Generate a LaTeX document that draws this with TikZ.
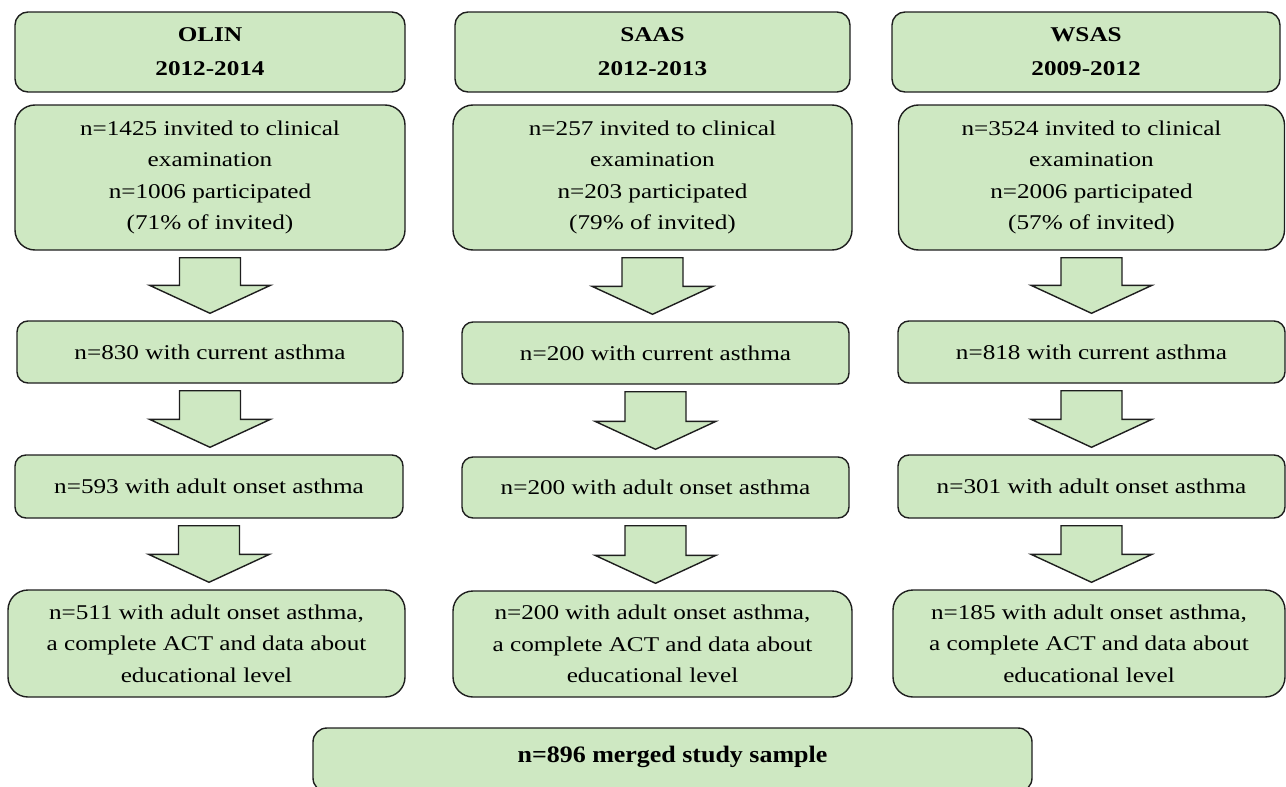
\documentclass[tikz,border=0pt]{standalone}
\usepackage{fontspec}
\setmainfont[FakeStretch=1.2]{Liberation Serif}
\newfontfamily\mergedFont[FakeStretch=1.1]{Liberation Serif}
\usetikzlibrary{calc}
\definecolor{boxGreen}{RGB}{206,232,194}
\definecolor{boxLine}{RGB}{30,30,30}
\def\lineThickness{(1.4pt)}
\def\gapLen{7}
\def\shaftHalf{30.5}
\def\headHalf{60.5}
\def\headLen{28}
\def\fText{\fontsize{21}{31.5}\selectfont}
\tikzset{box/.style={draw=boxLine,fill=boxGreen,line width=\lineThickness,rounded corners=11pt,align=center,inner sep=0,font=\fText}}
\tikzset{bigbox/.style={box,rounded corners=20pt}}
\tikzset{headbox/.style={box,rounded corners=13pt,font=\fontsize{21}{34}\selectfont\bfseries}}
\tikzset{barrow/.style={draw=boxLine,fill=boxGreen,line width=\lineThickness,line join=miter}}
\newcommand{\blockArrow}[2]{\coordinate (t) at ($(#1.south)+(0,\gapLen)$);\coordinate (h) at ($(#1.south |- #2.north)+(0,-\gapLen)$);\draw[barrow] ($(t)+(-\shaftHalf,0)$)--($(t)+(\shaftHalf,0)$)--($(h)+(\shaftHalf,-\headLen)$)--($(h)+(\headHalf,-\headLen)$)--(h)--($(h)+(-\headHalf,-\headLen)$)--($(h)+(-\shaftHalf,-\headLen)$)--cycle;}

\begin{document}
\begin{tikzpicture}[x=1pt,y=-1pt]\useasboundingbox (0,0) rectangle (1286,787);
% OLIN
\node[headbox,minimum width=390pt,minimum height=80pt] (o1) at (210,52) {OLIN\\2012-2014};
\node[bigbox,minimum width=390pt,minimum height=145pt] (o2) at (210,177.5) {n=1425 invited to clinical\\examination\\n=1006 participated\\(71\% of invited)};
\node[box,minimum width=386pt,minimum height=62pt] (o3) at (210,352) {n=830 with current asthma};
\node[box,minimum width=388pt,minimum height=63pt] (o4) at (209,486.5) {n=593 with adult onset asthma};
\node[bigbox,minimum width=397pt,minimum height=107pt] (o5) at (206.5,643.5) {n=511 with adult onset asthma,\\a complete ACT and data about\\educational level};
% SAAS
\node[headbox,minimum width=395pt,minimum height=80pt] (s1) at (652.5,52) {SAAS\\2012-2013};
\node[bigbox,minimum width=399pt,minimum height=145pt] (s2) at (652.5,177.5) {n=257 invited to clinical\\examination\\n=203 participated\\(79\% of invited)};
\node[box,minimum width=387pt,minimum height=62pt] (s3) at (655.5,353) {n=200 with current asthma};
\node[box,minimum width=387pt,minimum height=61pt] (s4) at (655.5,487.5) {n=200 with adult onset asthma};
\node[bigbox,minimum width=399pt,minimum height=106pt] (s5) at (652.5,644) {n=200 with adult onset asthma,\\a complete ACT and data about\\educational level};
% WSAS
\node[headbox,minimum width=388pt,minimum height=80pt] (w1) at (1086,52) {WSAS\\2009-2012};
\node[bigbox,minimum width=386pt,minimum height=145pt] (w2) at (1091.5,177.5) {n=3524 invited to clinical\\examination\\n=2006 participated\\(57\% of invited)};
\node[box,minimum width=387pt,minimum height=62pt] (w3) at (1091.5,352) {n=818 with current asthma};
\node[box,minimum width=387pt,minimum height=63pt] (w4) at (1091.5,486.5) {n=301 with adult onset asthma};
\node[bigbox,minimum width=392pt,minimum height=107pt] (w5) at (1089,643.5) {n=185 with adult onset asthma,\\a complete ACT and data about\\educational level};
\foreach\c in {o,s,w}{\foreach\i/\j in {2/3,3/4,4/5}{\blockArrow{\c\i}{\c\j}}};
\node[box,rounded corners=14pt,anchor=base,minimum width=719pt,text height=34pt,text depth=30pt,font=\mergedFont\fontsize{23.6}{28}\selectfont\bfseries] (merged) at (672.5,762) {n=896 merged study sample};
\end{tikzpicture}
\end{document}
